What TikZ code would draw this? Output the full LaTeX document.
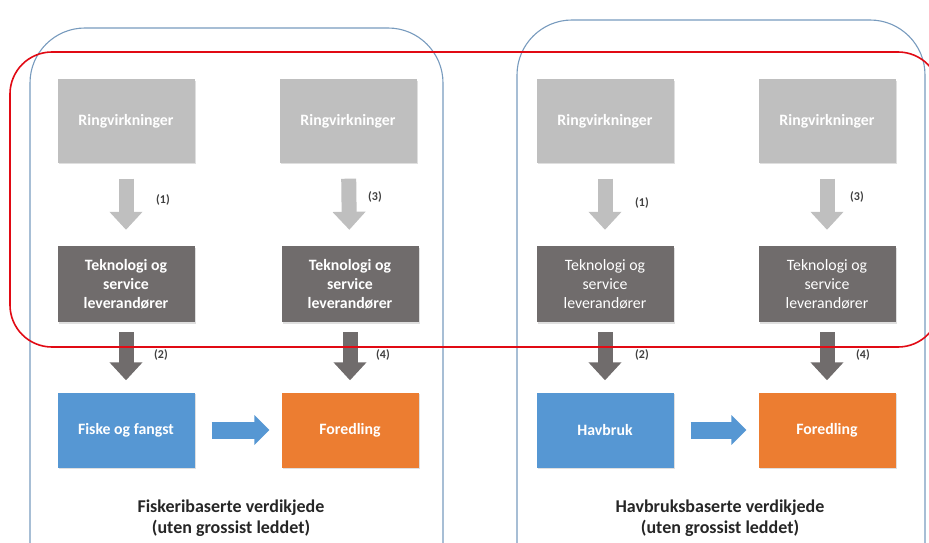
\documentclass[tikz,border=0pt]{standalone}
\usepackage{fontspec}
\setmainfont{Carlito}
\usetikzlibrary{arrows.meta,shadows}

\definecolor{ringgray}{RGB}{191,191,191}
\definecolor{tekgray}{RGB}{112,108,108}
\definecolor{fiskeblue}{RGB}{86,151,211}
\definecolor{foredorange}{RGB}{236,125,49}
\definecolor{panelblue}{RGB}{120,155,190}
\definecolor{ringred}{RGB}{225,10,20}

\begin{document}
\begin{tikzpicture}[x=1pt,y=-1pt,
	box/.style={rectangle, align=center, minimum width=137pt,
		font=\bfseries\fontsize{15.8}{19}\selectfont, text=white,
		drop shadow={shadow xshift=1.5pt, shadow yshift=-1.5pt, opacity=0.25}},
	ringbox/.style={box, fill=ringgray, minimum height=83pt},
	tekbox/.style={box, fill=tekgray, minimum height=76pt},
	chainbox/.style={box, minimum height=75pt},
	downarrow/.style={line width=15pt, -{Triangle[width=32pt,length=18pt]},
		shorten <=16pt, shorten >=16pt},
	num/.style={font=\bfseries\fontsize{12}{13}\selectfont, text=black!75},
	title/.style={align=center, font=\bfseries\fontsize{18}{21}\selectfont, text=black!85}]

	\useasboundingbox (0,0) rectangle (929,543);

	%Panels
	\draw[panelblue, line width=1.1pt, rounded corners=55pt] (30,28) rectangle (443,600);
	\draw[panelblue, line width=1.1pt, rounded corners=55pt] (517,20) rectangle (925,600);

	%Ringvirkninger
	\node (ringOne) at (126,121) [ringbox] {Ringvirkninger};
	\node (ringTwo) at (348,121) [ringbox] {Ringvirkninger};
	\node (ringThree) at (605,121) [ringbox] {Ringvirkninger};
	\node (ringFour) at (827,121) [ringbox] {Ringvirkninger};

	%Teknologi
	\node (tekOne) at (126,284) [tekbox] {Teknologi og\\service\\leverandører};
	\node (tekTwo) at (350,284) [tekbox] {Teknologi og\\service\\leverandører};
	\node (tekThree) at (605,284) [tekbox, font=\fontsize{15.8}{19}\selectfont] {Teknologi og\\service\\leverandører};
	\node (tekFour) at (827,284) [tekbox, font=\fontsize{15.8}{19}\selectfont] {Teknologi og\\service\\leverandører};

	%Chain
	\node (fiske) at (126,430) [chainbox, fill=fiskeblue] {Fiske og fangst};
	\node (foredOne) at (350,430) [chainbox, fill=foredorange] {Foredling};
	\node (havbruk) at (605,430) [chainbox, fill=fiskeblue] {Havbruk};
	\node (foredTwo) at (827,430) [chainbox, fill=foredorange] {Foredling};

	%Arrows
	\draw[downarrow, ringgray] (ringOne) -- (tekOne);
	\draw[downarrow, ringgray] (ringTwo) -- (tekTwo);
	\draw[downarrow, ringgray] (ringThree) -- (tekThree);
	\draw[downarrow, ringgray] (ringFour) -- (tekFour);
	\draw[downarrow, tekgray, shorten <=10pt, shorten >=12pt] (tekOne) -- (fiske);
	\draw[downarrow, tekgray, shorten <=10pt, shorten >=12pt] (tekTwo) -- (foredOne);
	\draw[downarrow, tekgray, shorten <=10pt, shorten >=12pt] (tekThree) -- (havbruk);
	\draw[downarrow, tekgray, shorten <=10pt, shorten >=12pt] (tekFour) -- (foredTwo);
	\draw[fiskeblue, line width=17pt, -{Triangle[width=29pt,length=15pt]},
		shorten <=17pt, shorten >=12pt] (fiske) -- (foredOne);
	\draw[fiskeblue, line width=17pt, -{Triangle[width=29pt,length=15pt]},
		shorten <=17pt, shorten >=12pt] (havbruk) -- (foredTwo);

	%Numbers
	\node (numOne) at (163,200) [num] {(1)};
	\node (numThree) at (375,197) [num] {(3)};
	\node (numTwo) at (161,355) [num] {(2)};
	\node (numFour) at (383,355) [num] {(4)};
	\node (numOneB) at (642,203) [num] {(1)};
	\node (numThreeB) at (857,197) [num] {(3)};
	\node (numTwoB) at (642,355) [num] {(2)};
	\node (numFourB) at (863,355) [num] {(4)};

	%Titles
	\node (fiskeTitle) at (231,518) [title] {Fiskeribaserte verdikjede\\(uten grossist leddet)};
	\node (havTitle) at (720,518) [title] {Havbruksbaserte verdikjede\\(uten grossist leddet)};

	%Red ring
	\draw[ringred, line width=1.6pt, rounded corners=42pt] (10,52) rectangle (940,347);

\end{tikzpicture}
\end{document}
